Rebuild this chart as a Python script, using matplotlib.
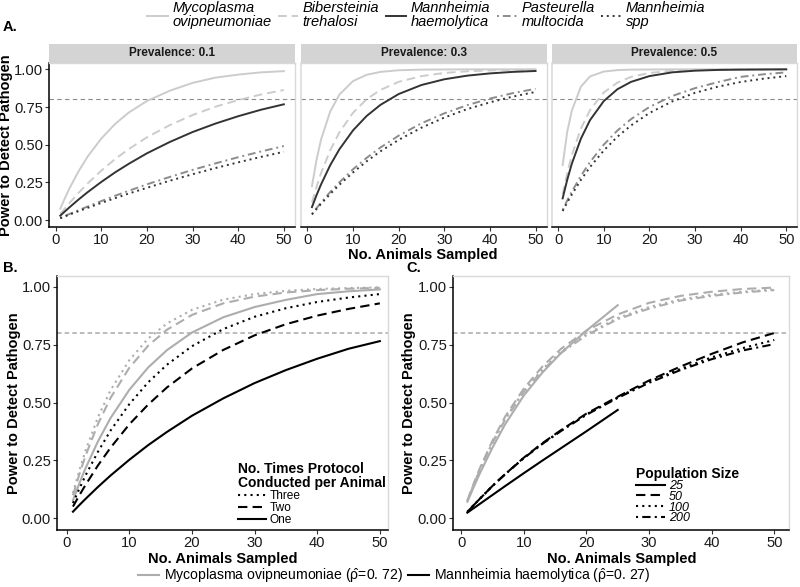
import numpy as np
import matplotlib.pyplot as plt
from matplotlib.lines import Line2D

plt.rcParams['font.family'] = ['Liberation Sans', 'DejaVu Sans']
plt.rcParams['mathtext.fontset'] = 'custom'
plt.rcParams['mathtext.rm'] = 'Liberation Sans'
plt.rcParams['mathtext.it'] = 'Liberation Sans'
plt.rcParams['mathtext.bf'] = 'Liberation Sans:bold'

# number of animals sampled (shared x values)
n_sampled = [1, 2, 3, 5, 7, 10, 13, 16, 20, 25, 30, 35, 40, 45, 50]

# --- panel A: power by pathogen, per prevalence ---
myco_p01 = [0.075, 0.144, 0.209, 0.323, 0.421, 0.541, 0.637, 0.713, 0.790, 0.858, 0.910, 0.945, 0.965, 0.980, 0.988]
bib_p01 = [0.039, 0.077, 0.112, 0.180, 0.243, 0.328, 0.404, 0.471, 0.549, 0.630, 0.697, 0.752, 0.796, 0.833, 0.863]
mh_p01 = [0.029, 0.057, 0.084, 0.136, 0.185, 0.253, 0.316, 0.373, 0.443, 0.518, 0.584, 0.640, 0.689, 0.732, 0.768]
past_p01 = [0.013, 0.027, 0.040, 0.065, 0.090, 0.126, 0.161, 0.194, 0.237, 0.286, 0.333, 0.376, 0.417, 0.455, 0.491]
spp_p01 = [0.012, 0.024, 0.036, 0.059, 0.081, 0.114, 0.145, 0.176, 0.214, 0.261, 0.304, 0.345, 0.383, 0.419, 0.453]

myco_p03 = [0.225, 0.399, 0.535, 0.720, 0.832, 0.922, 0.964, 0.983, 0.994, 0.998, 0.999, 1.0, 1.0, 1.0, 1.0]
bib_p03 = [0.117, 0.220, 0.312, 0.463, 0.581, 0.712, 0.802, 0.863, 0.917, 0.955, 0.976, 0.987, 0.993, 0.996, 0.998]
mh_p03 = [0.086, 0.165, 0.237, 0.364, 0.469, 0.595, 0.691, 0.764, 0.836, 0.896, 0.934, 0.958, 0.973, 0.983, 0.989]
past_p03 = [0.040, 0.079, 0.116, 0.186, 0.250, 0.337, 0.413, 0.481, 0.560, 0.642, 0.708, 0.762, 0.806, 0.842, 0.871]
spp_p03 = [0.037, 0.073, 0.108, 0.173, 0.234, 0.316, 0.390, 0.456, 0.532, 0.613, 0.680, 0.736, 0.781, 0.819, 0.850]

myco_p05 = [0.365, 0.585, 0.725, 0.885, 0.953, 0.985, 0.995, 0.998, 0.999, 1.0, 1.0, 1.0, 1.0, 1.0, 1.0]
bib_p05 = [0.171, 0.312, 0.429, 0.607, 0.730, 0.846, 0.912, 0.950, 0.976, 0.991, 0.996, 0.999, 1.0, 1.0, 1.0]
mh_p05 = [0.144, 0.267, 0.373, 0.540, 0.663, 0.789, 0.868, 0.917, 0.955, 0.980, 0.991, 0.996, 0.998, 0.999, 1.0]
past_p05 = [0.067, 0.130, 0.188, 0.293, 0.385, 0.500, 0.594, 0.670, 0.750, 0.823, 0.875, 0.915, 0.950, 0.967, 0.980]
spp_p05 = [0.060, 0.116, 0.169, 0.266, 0.352, 0.461, 0.553, 0.628, 0.710, 0.787, 0.844, 0.885, 0.916, 0.938, 0.955]

prevalences = ['0.1', '0.3', '0.5']
species = ['Mycoplasma\novipneumoniae', 'Bibersteinia\ntrehalosi', 'Mannheimia\nhaemolytica',
           'Pasteurella\nmultocida', 'Mannheimia\nspp']

# --- panel B: repeated protocol ---
b_mh_one = [0.029, 0.057, 0.084, 0.136, 0.185, 0.253, 0.316, 0.373, 0.443, 0.518, 0.584, 0.640, 0.689, 0.732, 0.765]
b_mh_two = [0.051, 0.099, 0.144, 0.229, 0.305, 0.406, 0.491, 0.565, 0.647, 0.727, 0.790, 0.838, 0.875, 0.904, 0.928]
b_mh_three = [0.066, 0.127, 0.185, 0.288, 0.379, 0.493, 0.587, 0.663, 0.743, 0.817, 0.870, 0.907, 0.934, 0.953, 0.968]
b_myco_one = [0.078, 0.150, 0.216, 0.333, 0.433, 0.555, 0.651, 0.726, 0.802, 0.868, 0.912, 0.943, 0.968, 0.980, 0.988]
b_myco_two = [0.100, 0.189, 0.270, 0.408, 0.520, 0.650, 0.745, 0.814, 0.878, 0.928, 0.957, 0.975, 0.985, 0.991, 0.995]
b_myco_three = [0.109, 0.205, 0.292, 0.437, 0.553, 0.683, 0.776, 0.841, 0.900, 0.944, 0.968, 0.982, 0.990, 0.994, 0.997]
protocol_labels = ['Three', 'Two', 'One']

# --- panel C: population size ---
c_mh_25 = [0.025, 0.044, 0.063, 0.101, 0.139, 0.195, 0.250, 0.304, 0.376, 0.468]
c_mh_50 = [0.028, 0.057, 0.085, 0.140, 0.190, 0.262, 0.325, 0.382, 0.452, 0.525, 0.595, 0.655, 0.710, 0.760, 0.800]
c_mh_100 = [0.028, 0.057, 0.085, 0.140, 0.190, 0.261, 0.323, 0.380, 0.449, 0.522, 0.590, 0.645, 0.695, 0.735, 0.770]
c_mh_200 = [0.028, 0.057, 0.085, 0.140, 0.190, 0.260, 0.322, 0.378, 0.447, 0.520, 0.585, 0.640, 0.687, 0.725, 0.752]
c_myco_25 = [0.072, 0.135, 0.195, 0.305, 0.405, 0.530, 0.630, 0.715, 0.810, 0.920]
c_myco_50 = [0.078, 0.150, 0.217, 0.335, 0.438, 0.560, 0.656, 0.733, 0.810, 0.880, 0.930, 0.960, 0.978, 0.990, 0.996]
c_myco_100 = [0.076, 0.146, 0.212, 0.328, 0.430, 0.550, 0.645, 0.720, 0.795, 0.865, 0.912, 0.945, 0.965, 0.978, 0.988]
c_myco_200 = [0.075, 0.145, 0.210, 0.325, 0.425, 0.545, 0.640, 0.715, 0.790, 0.860, 0.905, 0.940, 0.960, 0.975, 0.985]
pop_labels = ['25', '50', '100', '200']

threshold = 0.8

DASHED = (0, (4.5, 2.5))
DOTTED = (0, (1, 2))
DOTDASH = (0, (1, 2, 4, 2))

yticks = [0, 0.25, 0.5, 0.75, 1.0]
ytick_labels = ['0.00', '0.25', '0.50', '0.75', '1.00']
xticks = [0, 10, 20, 30, 40, 50]


def style_axes(ax, left_black=True):
    for s in ['top', 'right']:
        ax.spines[s].set_color('#d9d9d9')
        ax.spines[s].set_linewidth(1.0)
    ax.spines['bottom'].set_color('black')
    ax.spines['bottom'].set_linewidth(1.1)
    ax.spines['left'].set_color('black' if left_black else '#d9d9d9')
    ax.spines['left'].set_linewidth(1.1)
    ax.tick_params(length=3, width=0.8, color='#333333', labelsize=10.6, labelcolor='#1a1a1a', pad=1.5)
    ax.set_xticks(xticks)
    ax.set_yticks(yticks)
    ax.set_yticklabels(ytick_labels)


fig = plt.figure(figsize=(8, 5.87), dpi=100)
W, H = 800, 587

# panel A
a_series = [
    [myco_p01, bib_p01, mh_p01, past_p01, spp_p01],
    [myco_p03, bib_p03, mh_p03, past_p03, spp_p03],
    [myco_p05, bib_p05, mh_p05, past_p05, spp_p05],
]
a_colors = ['#cccccc', '#cccccc', '#333333', '#8c8c8c', '#333333']
a_styles = ['-', DASHED, '-', DOTDASH, DOTTED]
a_left = [49.3, 301, 551.7]
a_width = 245.5
a_handles = []
for i, prev in enumerate(prevalences):
    ax = fig.add_axes([a_left[i] / W, 1 - 227.3 / H, a_width / W, 164.6 / H])
    ax.axhline(threshold, color='#8c8c8c', lw=0.8, ls=(0, (4, 3)), zorder=1)
    for k, ys in enumerate(a_series[i]):
        ln, = ax.plot(n_sampled, ys, color=a_colors[k], ls=a_styles[k], lw=1.4, zorder=2)
        if i == 0:
            a_handles.append(ln)
    ax.set_xlim(-1.4, 52.4)
    ax.set_ylim(-0.048, 1.044)
    style_axes(ax, left_black=(i == 0))
    ax.tick_params(axis='x', pad=1)
    if i == 0:
        ax.set_ylabel('Power to Detect Pathogen', fontsize=10.5, fontweight='bold')
        ax.yaxis.set_label_coords((13 - 49.3) / a_width, 0.5)
    else:
        ax.tick_params(axis='y', left=False, labelleft=False)
    # facet strip
    strip = fig.add_axes([a_left[i] / W, 1 - 62.7 / H, a_width / W, 18.7 / H])
    strip.set_facecolor('#d4d4d4')
    strip.set_xticks([])
    strip.set_yticks([])
    for s in strip.spines.values():
        s.set_visible(False)
    strip.text(0.5, 0.5, 'Prevalence: ' + prev, ha='center', va='center',
               fontsize=8.5, fontweight='bold', color='#1a1a1a', transform=strip.transAxes)

fig.text(423 / W, 1 - 255.5 / H, 'No. Animals Sampled', ha='center', va='center',
         fontsize=10.5, fontweight='bold')

leg = fig.legend(a_handles, species, loc='upper left', bbox_to_anchor=(146 / W, 1.0),
                 ncol=5, frameon=False, prop={'style': 'italic', 'size': 10.5},
                 handlelength=1.4, handletextpad=0.3, columnspacing=0.45,
                 borderpad=0.1, borderaxespad=0)
for t in leg.get_texts():
    t.set_linespacing(0.95)

# panel B
grey_bc = '#adadad'
axb = fig.add_axes([57.3 / W, 1 - 530 / H, 331 / W, 254 / H])
axb.axhline(threshold, color='#aaaaaa', lw=1.1, ls=(0, (3, 2)), zorder=1)
b_black = [b_mh_three, b_mh_two, b_mh_one]
b_grey = [b_myco_three, b_myco_two, b_myco_one]
b_styles = [DOTTED, DASHED, '-']
b_handles = []
for ys, st in zip(b_grey, b_styles):
    axb.plot(n_sampled, ys, color=grey_bc, ls=st, lw=1.5, zorder=2)
for ys, st in zip(b_black, b_styles):
    ln, = axb.plot(n_sampled, ys, color='black', ls=st, lw=1.5, zorder=3)
    b_handles.append(ln)
axb.set_xlim(-1.5, 51.35)
axb.set_ylim(-0.05, 1.046)
style_axes(axb)
axb.set_xlabel('No. Animals Sampled', fontsize=10.5, fontweight='bold', labelpad=1)
axb.set_ylabel('Power to Detect Pathogen', fontsize=10.5, fontweight='bold')
axb.yaxis.set_label_coords((21 - 57.3) / 331, 0.5)
legb = axb.legend(b_handles, protocol_labels, loc='lower right', bbox_to_anchor=(1.017, -0.016),
                  title='No. Times Protocol\nConducted per Animal', alignment='left',
                  frameon=False, fontsize=8.6, handlelength=2.4, handletextpad=0.3,
                  labelspacing=0.0, borderpad=0.2,
                  title_fontproperties={'weight': 'bold', 'size': 10})
legb.get_title().set_linespacing(1.0)

# panel C
axc = fig.add_axes([453.3 / W, 1 - 530 / H, 336 / W, 254 / H])
axc.axhline(threshold, color='#aaaaaa', lw=1.1, ls=(0, (3, 2)), zorder=1)
c_styles = ['-', DASHED, DOTTED, DOTDASH]
c_black = [c_mh_25, c_mh_50, c_mh_100, c_mh_200]
c_grey = [c_myco_25, c_myco_50, c_myco_100, c_myco_200]
c_handles = []
for ys, st in zip(c_grey, c_styles):
    axc.plot(n_sampled[:len(ys)], ys, color=grey_bc, ls=st, lw=1.5, zorder=2)
for ys, st in zip(c_black, c_styles):
    ln, = axc.plot(n_sampled[:len(ys)], ys, color='black', ls=st, lw=1.5, zorder=3)
    c_handles.append(ln)
axc.set_xlim(-1.25, 52.4)
axc.set_ylim(-0.05, 1.046)
style_axes(axc)
axc.set_xlabel('No. Animals Sampled', fontsize=10.5, fontweight='bold', labelpad=1)
axc.set_ylabel('Power to Detect Pathogen', fontsize=10.5, fontweight='bold')
axc.yaxis.set_label_coords((416 - 453.3) / 336, 0.5)
legc = axc.legend(c_handles, pop_labels, loc='lower left', bbox_to_anchor=(0.518, -0.012),
                  title='Population Size', alignment='left', frameon=False,
                  prop={'style': 'italic', 'size': 9}, handlelength=2.3, handletextpad=0.3,
                  labelspacing=-0.1, borderpad=0.2,
                  title_fontproperties={'weight': 'bold', 'size': 10})

# panel letters
fig.text(3 / W, 1 - 27 / H, 'A.', fontsize=10.5, fontweight='bold', va='center')
fig.text(3 / W, 1 - 268 / H, 'B.', fontsize=10.5, fontweight='bold', va='center')
fig.text(406 / W, 1 - 268 / H, 'C.', fontsize=10.5, fontweight='bold', va='center')

# bottom colour legend
bottom_handles = [Line2D([], [], color=grey_bc, lw=1.5), Line2D([], [], color='black', lw=1.5)]
bottom_labels = [r'Mycoplasma ovipneumoniae ($\hat{\rho}$=0. 72)',
                 r'Mannheimia haemolytica ($\hat{\rho}$=0. 27)']
fig.legend(bottom_handles, bottom_labels, loc='center', bbox_to_anchor=(394 / W, 1 - 576 / H),
           ncol=2, frameon=False, fontsize=10.1, handlelength=1.5, handletextpad=0.35,
           columnspacing=0.4, borderpad=0.1)

fig.savefig('out.png', dpi=100)
